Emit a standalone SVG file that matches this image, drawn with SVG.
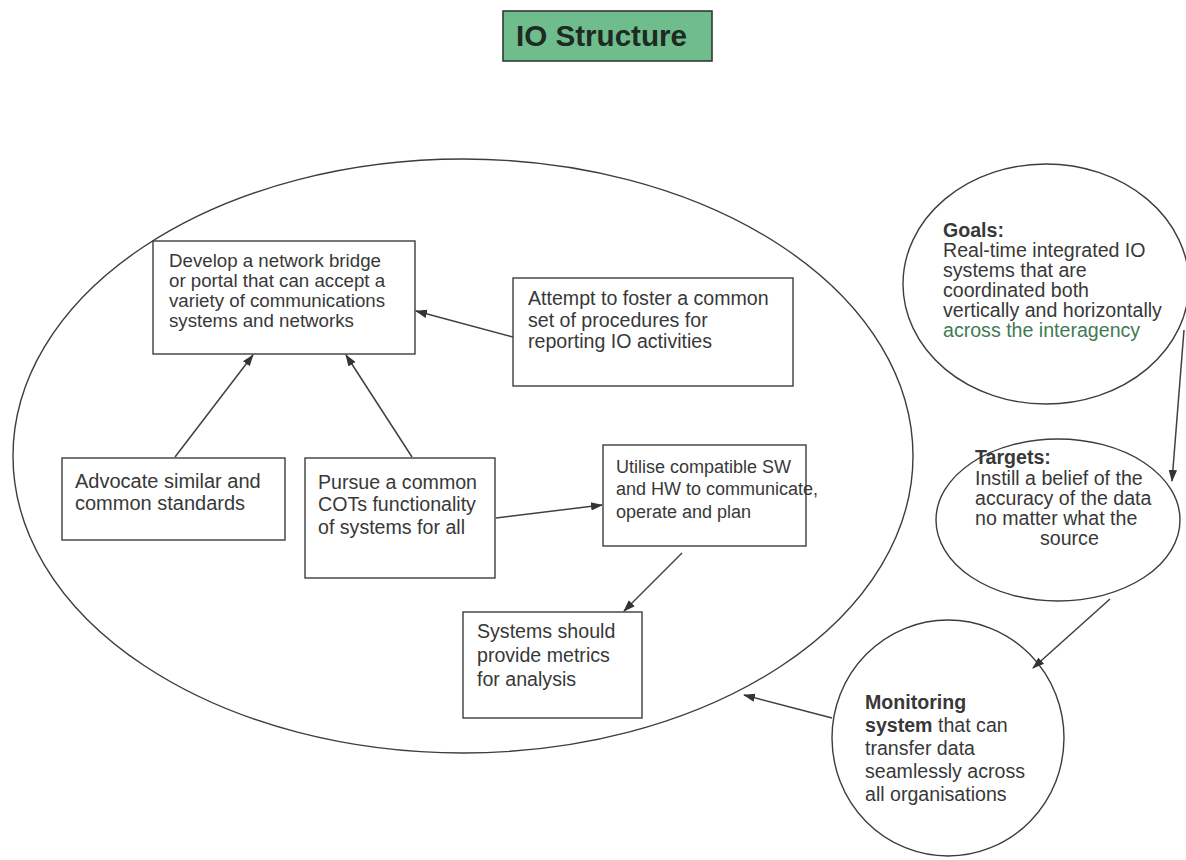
<svg xmlns="http://www.w3.org/2000/svg" width="1186" height="860" viewBox="0 0 1186 860">
  <style>
    .box { fill: #ffffff; stroke: #3d3d3d; stroke-width: 1.4; }
    .ring { fill: none; stroke: #3d3d3d; stroke-width: 1.4; }
    .txt { font-family: "Liberation Sans", Arial, sans-serif; font-size: 19.6px; fill: #383838; }
    .sm { font-size: 18.7px; }
    .xs { font-size: 18px; }
    .b { font-weight: bold; }
    .link { fill: none; stroke: #404040; stroke-width: 1.5; marker-end: url(#arrow); }
  </style>
  <defs>
    <marker id="arrow" markerUnits="userSpaceOnUse" markerWidth="12" markerHeight="10" viewBox="0 0 12 10" refX="11" refY="5" orient="auto">
      <path d="M0,0.8 L12,5 L0,9.2 Z" fill="#333333"/>
    </marker>
  </defs>

  <rect width="1186" height="860" fill="#ffffff"/>

  <!-- heading -->
  <g id="title">
    <rect x="503" y="11" width="209" height="50" fill="#6fbd8c" stroke="#2f3a33" stroke-width="1.6"/>
    <text x="516" y="46" font-family="Liberation Sans, Arial, sans-serif" font-size="29.6" font-weight="bold" fill="#1e2a22">IO Structure</text>
  </g>

  <!-- large enclosing ellipse -->
  <g id="scope">
    <ellipse class="ring" cx="463" cy="456" rx="450" ry="297"/>
  </g>

  <g id="develop">
    <rect class="box" x="153" y="241" width="262" height="113"/>
    <text class="txt sm">
      <tspan x="169" y="267">Develop a network bridge</tspan>
      <tspan x="169" y="287">or portal that can accept a</tspan>
      <tspan x="169" y="307">variety of communications</tspan>
      <tspan x="169" y="327">systems and networks</tspan>
    </text>
  </g>

  <g id="attempt">
    <rect class="box" x="513" y="278" width="280" height="108"/>
    <text class="txt">
      <tspan x="528" y="305">Attempt to foster a common</tspan>
      <tspan x="528" y="327">set of procedures for</tspan>
      <tspan x="528" y="348">reporting IO activities</tspan>
    </text>
  </g>

  <g id="advocate">
    <rect class="box" x="62" y="458" width="223" height="82"/>
    <text class="txt" style="font-size:20px">
      <tspan x="75" y="488">Advocate similar and</tspan>
      <tspan x="75" y="510">common standards</tspan>
    </text>
  </g>

  <g id="pursue">
    <rect class="box" x="305" y="458" width="190" height="120"/>
    <text class="txt">
      <tspan x="318" y="489">Pursue a common</tspan>
      <tspan x="318" y="511">COTs functionality</tspan>
      <tspan x="318" y="534">of systems for all</tspan>
    </text>
  </g>

  <g id="utilise">
    <rect class="box" x="603" y="445" width="203" height="101"/>
    <text class="txt xs">
      <tspan x="616" y="473">Utilise compatible SW</tspan>
      <tspan x="616" y="495">and HW to communicate,</tspan>
      <tspan x="616" y="518">operate and plan</tspan>
    </text>
  </g>

  <g id="metrics">
    <rect class="box" x="463" y="612" width="179" height="106"/>
    <text class="txt">
      <tspan x="477" y="638">Systems should</tspan>
      <tspan x="477" y="662">provide metrics</tspan>
      <tspan x="477" y="686">for analysis</tspan>
    </text>
  </g>

  <g id="goals">
    <ellipse class="ring" cx="1046" cy="284" rx="143" ry="120"/>
    <text class="txt">
      <tspan x="943" y="237" class="b">Goals:</tspan>
      <tspan x="943" y="257">Real-time integrated IO</tspan>
      <tspan x="943" y="277">systems that are</tspan>
      <tspan x="943" y="297">coordinated both</tspan>
      <tspan x="943" y="317">vertically and horizontally</tspan>
      <tspan x="943" y="337" fill="#3f7a55">across the interagency</tspan>
    </text>
  </g>

  <g id="targets">
    <ellipse class="ring" cx="1058" cy="520" rx="122" ry="81"/>
    <text class="txt">
      <tspan x="975" y="464" class="b">Targets:</tspan>
      <tspan x="975" y="485">Instill a belief of the</tspan>
      <tspan x="975" y="505">accuracy of the data</tspan>
      <tspan x="975" y="525">no matter what the</tspan>
      <tspan x="1040" y="545">source</tspan>
    </text>
  </g>

  <g id="monitoring">
    <ellipse class="ring" cx="948" cy="738" rx="116" ry="118"/>
    <text class="txt">
      <tspan x="865" y="709" class="b">Monitoring</tspan>
      <tspan x="865" y="732"><tspan class="b">system</tspan> that can</tspan>
      <tspan x="865" y="755">transfer data</tspan>
      <tspan x="865" y="778">seamlessly across</tspan>
      <tspan x="865" y="801">all organisations</tspan>
    </text>
  </g>

  <!-- connectors -->
  <g id="connectors">
    <line class="link" x1="513" y1="337" x2="416" y2="311"/>
    <line class="link" x1="175" y1="457" x2="253" y2="355"/>
    <line class="link" x1="412" y1="457" x2="346" y2="355"/>
    <line class="link" x1="496" y1="518" x2="602" y2="505"/>
    <line class="link" x1="682" y1="553" x2="624" y2="611"/>
    <line class="link" x1="1184" y1="330" x2="1172" y2="481"/>
    <line class="link" x1="1110" y1="599" x2="1033" y2="668"/>
    <line class="link" x1="832" y1="718" x2="744" y2="695"/>
  </g>
</svg>
